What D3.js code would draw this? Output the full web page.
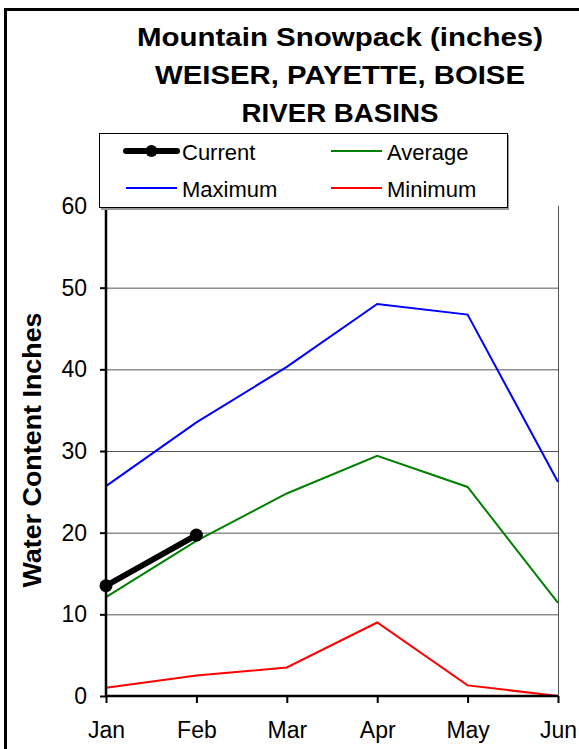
<!DOCTYPE html>
<html lang="en">
<head>
<meta charset="utf-8">
<title>Mountain Snowpack</title>
<script src="https://cdn.jsdelivr.net/npm/d3@7"></script>
<style>
  body { margin: 0; background: #fff; }
  text { font-family: "Liberation Sans", Arial, sans-serif; }
</style>
</head>
<body>
<script type="text/javascript">

var width = 579;
var height = 749;

// data
var months = ["Jan", "Feb", "Mar", "Apr", "May", "Jun"];
var maximum = [25.7, 33.5, 40.3, 48.0, 46.7, 26.2];
var average = [12.1, 19.0, 24.8, 29.4, 25.6, 11.4];
var minimum = [1.0, 2.5, 3.5, 9.0, 1.3, 0.0];
var current = [13.5, 19.7];
var yTicks = [0, 10, 20, 30, 40, 50, 60];
var titleLines = ["Mountain Snowpack (inches)", "WEISER, PAYETTE, BOISE", "RIVER BASINS"];
var titleWidths = [406, 370, 197];

var svg = d3.select("body").append("svg")
            .attr("width", width)
            .attr("height", height);

// outer frame
svg.append("rect")
   .attr("x", 5.5).attr("y", 9.5)
   .attr("width", width + 20).attr("height", height + 20)
   .attr("fill", "none")
   .attr("stroke", "#000")
   .attr("stroke-width", 3);

var x = d3.scalePoint().domain(months).range([106, 558]);
var y = d3.scaleLinear().domain([0, 60]).range([696, 206]);

// gridlines
svg.append("g")
   .selectAll("line")
   .data(yTicks.filter(function(d) { return d > 0 && d < 60; }))
   .enter().append("line")
   .attr("x1", 106).attr("x2", 558)
   .attr("y1", function(d) { return y(d) + 0.5; })
   .attr("y2", function(d) { return y(d) + 0.5; })
   .attr("stroke", "#555")
   .attr("stroke-width", 1);

// right edge of plot area
svg.append("line")
   .attr("x1", 558.5).attr("x2", 558.5)
   .attr("y1", y(60)).attr("y2", y(0))
   .attr("stroke", "#555");

var line = d3.line()
             .x(function(d, i) { return x(months[i]); })
             .y(function(d) { return y(d); });

svg.append("path").datum(maximum).attr("d", line)
   .attr("fill", "none").attr("stroke", "#0000ff").attr("stroke-width", 2);
svg.append("path").datum(average).attr("d", line)
   .attr("fill", "none").attr("stroke", "#008000").attr("stroke-width", 2);
svg.append("path").datum(minimum).attr("d", line)
   .attr("fill", "none").attr("stroke", "#ff0000").attr("stroke-width", 2);
svg.append("path").datum(current).attr("d", line)
   .attr("fill", "none").attr("stroke", "#000").attr("stroke-width", 6);
svg.append("g").selectAll("circle")
   .data(current)
   .enter().append("circle")
   .attr("cx", function(d, i) { return x(months[i]); })
   .attr("cy", function(d) { return y(d); })
   .attr("r", 6.5)
   .attr("fill", "#000");

// axes
var yAxis = svg.append("g")
               .attr("transform", "translate(106,0)")
               .call(d3.axisLeft(y).tickValues(yTicks).tickSize(6).tickPadding(13));
var xAxis = svg.append("g")
               .attr("transform", "translate(0,696)")
               .call(d3.axisBottom(x).tickSize(7).tickPadding(19));
[yAxis, xAxis].forEach(function(g) {
  g.select(".domain").attr("stroke", "#000").attr("stroke-width", 2.5);
  g.selectAll(".tick line").attr("stroke", "#000").attr("stroke-width", 2);
  g.selectAll(".tick text")
   .attr("font-family", "'Liberation Sans', Arial, sans-serif")
   .attr("font-size", 23)
   .attr("fill", "#000");
});
yAxis.select(".domain").attr("d", "M-6," + y(60) + "H0V" + y(0));
xAxis.select(".domain").attr("d", "M106,0H558");

// y axis title
svg.append("text")
   .attr("transform", "translate(41,450) rotate(-90)")
   .attr("text-anchor", "middle")
   .attr("font-size", 26.5)
   .attr("font-weight", "bold")
   .attr("textLength", 275)
   .attr("lengthAdjust", "spacingAndGlyphs")
   .text("Water Content Inches");

// chart title
svg.append("g").selectAll("text")
   .data(titleLines)
   .enter().append("text")
   .attr("x", function(d, i) { return 340 - titleWidths[i] / 2; })
   .attr("y", function(d, i) { return [46, 83.5, 122][i]; })
   .attr("font-size", 26.5)
   .attr("font-weight", "bold")
   .attr("textLength", function(d, i) { return titleWidths[i]; })
   .attr("lengthAdjust", "spacingAndGlyphs")
   .text(function(d) { return d; });

// legend
var legendItems = [
  { name: "Current", color: "#000", width: 6, dot: true, col: 0, row: 0 },
  { name: "Average", color: "#008000", width: 2, dot: false, col: 1, row: 0 },
  { name: "Maximum", color: "#0000ff", width: 2, dot: false, col: 0, row: 1 },
  { name: "Minimum", color: "#ff0000", width: 2, dot: false, col: 1, row: 1 }
];
var legend = svg.append("g");
legend.append("rect")
      .attr("x", 101).attr("y", 135)
      .attr("width", 408).attr("height", 75)
      .attr("fill", "#999");
legend.append("rect")
      .attr("x", 99.5).attr("y", 133.5)
      .attr("width", 408).attr("height", 74)
      .attr("fill", "#fff")
      .attr("stroke", "#000")
      .attr("stroke-width", 1);
var item = legend.selectAll("g.item")
                 .data(legendItems)
                 .enter().append("g")
                 .attr("transform", function(d) {
                   return "translate(" + (126 + d.col * 205) + "," + (151 + d.row * 37) + ")";
                 });
item.append("line")
    .attr("x1", 0).attr("x2", 51)
    .attr("stroke", function(d) { return d.color; })
    .attr("stroke-width", function(d) { return d.width; })
    .attr("stroke-linecap", function(d) { return d.dot ? "round" : "butt"; });
item.filter(function(d) { return d.dot; })
    .append("circle")
    .attr("cx", 25.5).attr("r", 6).attr("fill", "#000");
item.append("text")
    .attr("x", 56).attr("y", 8.5)
    .attr("font-size", 22)
    .text(function(d) { return d.name; });

</script>
</body>
</html>
